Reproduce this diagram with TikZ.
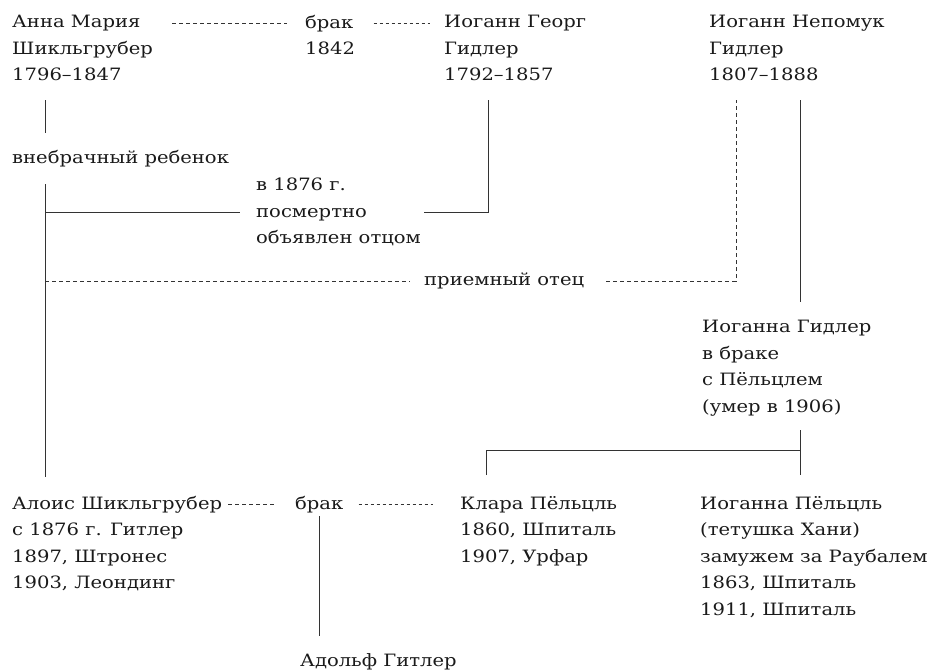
\documentclass[tikz,border=0pt]{standalone}
\usepackage{fontspec}
\setmainfont[FakeStretch=1.15]{DejaVu Serif}
\usepackage{tikz}
\usepackage{xcolor}
\usetikzlibrary{positioning,calc}

\definecolor{ink}{HTML}{1A1A1A}
\definecolor{rule}{HTML}{333333}

\tikzset{
    person/.style={anchor=north west, inner sep=0pt, align=left, text=ink,
        font=\fontsize{17}{26.5}\selectfont},
    kin/.style={draw=rule, line width=0.9pt},
    wed/.style={draw=rule, line width=0.8pt, dash pattern=on 4pt off 3pt},
    adoptl/.style={draw=rule, line width=0.8pt, dash pattern=on 4pt off 3pt},
}

\begin{document}
\begin{tikzpicture}[x=1pt, y=-1pt]
    \useasboundingbox (0,0) rectangle (936,669);

    % top generation
    \node[person] (anna) at (12,15) {Анна Мария\\Шикльгрубер\\1796–1847};
    \node[person] (brak1) at (305,15) {брак};
    \node[person] (yr1) at (305,41.5) {1842};
    \node[person] (georg) at (444,15) {Иоганн Георг\\Гидлер\\1792–1857};
    \node[person] (nepomuk) at (709,15) {Иоганн Непомук\\Гидлер\\1807–1888};

    \draw[wed] ([xshift=-133pt]brak1.west) -- ([xshift=-18pt]brak1.west);
    \draw[wed, dash pattern=on 3pt off 3pt] ([xshift=20pt]brak1.east) -- ([xshift=-14pt]georg.north west |- brak1.east);

    % middle
    \node[person] (illeg) at (12,150) {внебрачный ребенок};
    \node[person] (posth) at (256,178) {в 1876 г.\\посмертно\\объявлен отцом};
    \node[person] (adopt) at (424,273) {приемный отец};
    \node[person] (johanna) at (702,320) {Иоганна Гидлер\\в браке\\с Пёльцлем\\(умер в 1906)};

    % bottom generation
    \node[person] (alois) at (12,496) {Алоис Шикльгрубер\\с 1876 г. Гитлер\\1897, Штронес\\1903, Леондинг};
    \node[person] (brak2) at (295,496) {брак};
    \node[person] (klara) at (460,496) {Клара Пёльцль\\1860, Шпиталь\\1907, Урфар};
    \node[person] (johannaP) at (700,496) {Иоганна Пёльцль\\(тетушка Хани)\\замужем за Раубалем\\1863, Шпиталь\\1911, Шпиталь};
    \node[person] (adolf) at (300,653) {Адольф Гитлер};

    \coordinate (spine) at ([xshift=33pt]alois.north west);
    \coordinate (gfoot) at ([shift={(44,19)}]georg.south west);
    \coordinate (nfoot) at ([shift={(27,19)}]nepomuk.south west);
    \coordinate (jfoot) at ([shift={(98,14)}]johanna.south west);
    \coordinate (fork) at ([yshift=-20pt]jfoot);

    \draw[kin] ([shift={(33,19)}]anna.south west) -- ([shift={(33,-17)}]illeg.north west);
    \draw[kin] ([shift={(33,17)}]illeg.south west) -- ([yshift=19pt]spine);
    \draw[kin] (posth.west -| spine) -- ([xshift=-16pt]posth.west);
    \draw[kin] (gfoot) |- ([xshift=3pt]posth.east);

    \draw[adoptl] (adopt.west -| spine) -- ([xshift=-14pt]adopt.west);
    \draw[adoptl] ([xshift=22pt]adopt.east) -| (nfoot);

    \draw[kin] ([shift={(91,19)}]nepomuk.south west) -- ([shift={(98,-18)}]johanna.north west);
    \draw[kin] (jfoot) -- (fork);
    \draw[kin] ([shift={(26,-21)}]klara.north west) |- (fork) -| ([shift={(100,-21)}]johannaP.north west);

    \draw[wed] ([xshift=-67pt]brak2.west) -- ([xshift=-19pt]brak2.west);
    \draw[wed, dash pattern=on 3pt off 3pt] ([xshift=15pt]brak2.east) -- ([xshift=-27pt]klara.north west |- brak2.east);
    \draw[kin] ([yshift=-3pt]brak2.south) -- ([yshift=17pt]brak2.south |- adolf.north);
\end{tikzpicture}
\end{document}
